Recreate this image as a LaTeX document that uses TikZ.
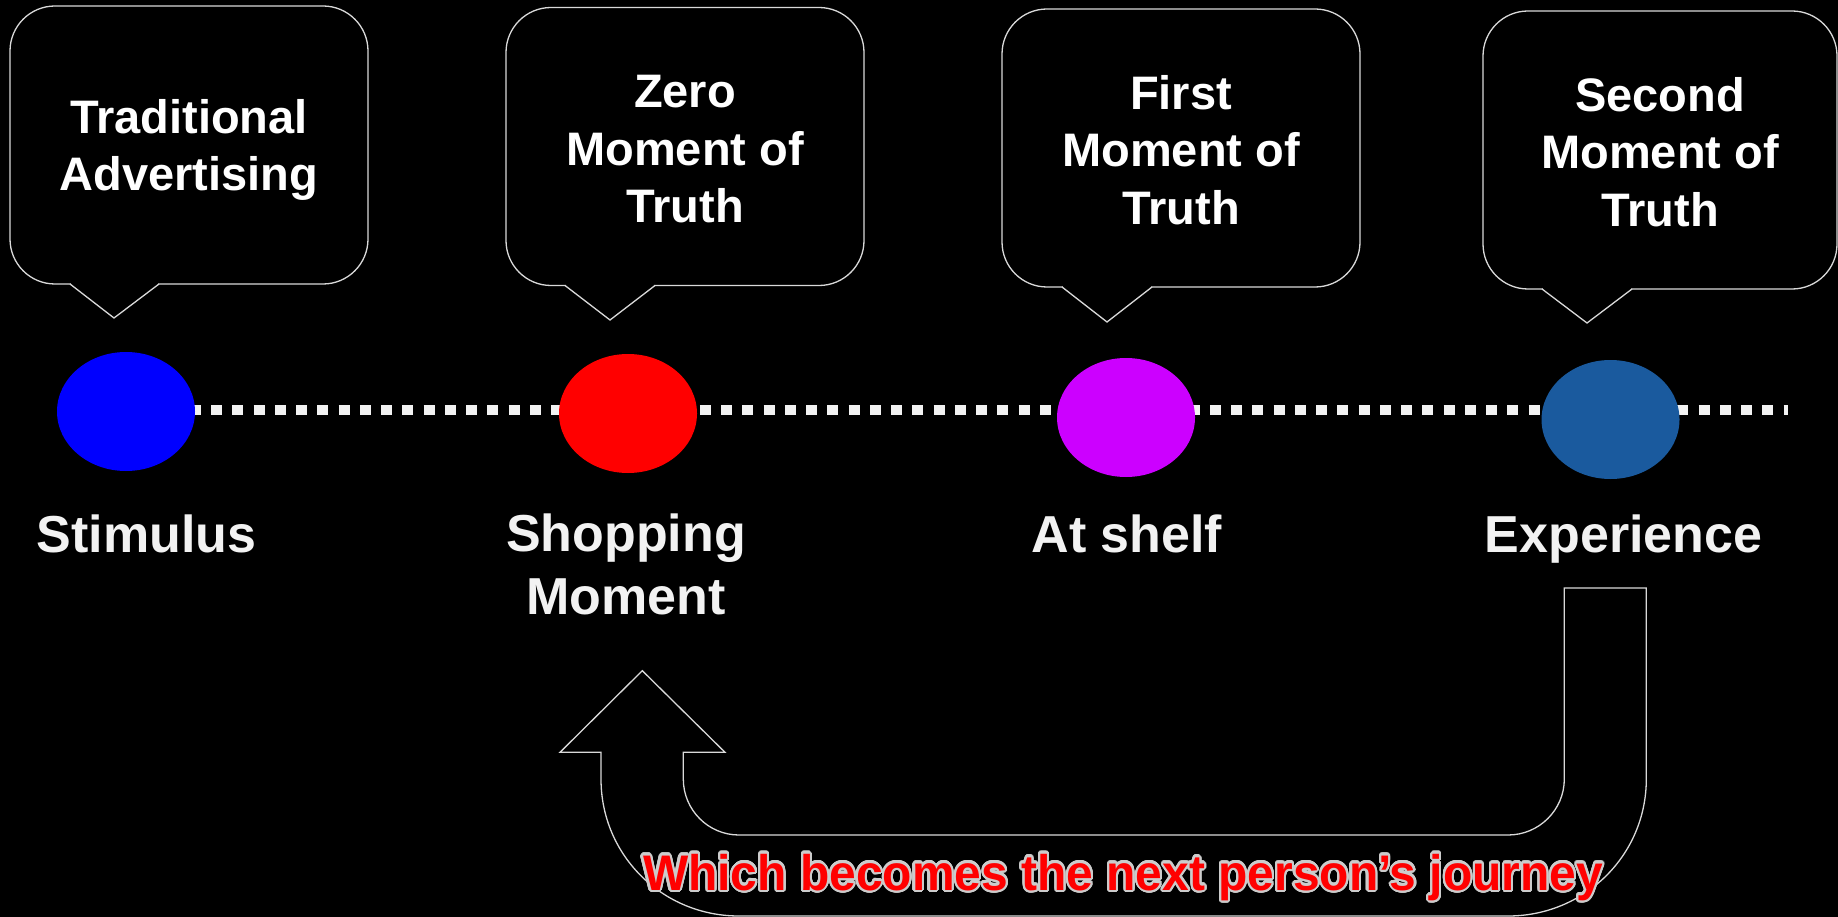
\documentclass[tikz,border=0pt]{standalone}
\usepackage{fontspec}
\setmainfont{Liberation Sans}
\usepackage{contour}
\usetikzlibrary{shapes.geometric}
\definecolor{lineg}{RGB}{217,217,217}
\definecolor{txtw}{RGB}{242,242,242}
\definecolor{magentap}{RGB}{204,0,255}
\definecolor{steelb}{RGB}{26,90,158}
\contourlength{2.2pt}
\contournumber{32}
\newcommand{\calltail}[5]{%
  \fill[black] (#1+1,#5-1.5) -- (#4-1,#5-1.5) -- (#4-1,#5) -- (#2,#3) -- (#1+1,#5) -- cycle;
  \draw[tailedge] (#1,#5) -- (#2,#3) -- (#4,#5);}
\begin{document}
\begin{tikzpicture}[x=1pt,y=-1pt,
  bubble/.style={draw=lineg, line width=1.3pt, fill=black, rounded corners=45pt,
    minimum width=358pt, minimum height=278pt, inner sep=0pt, align=center,
    text=white, text depth=0pt, font=\bfseries\fontsize{47}{57.5}\selectfont},
  three/.style={text height=153pt},
  tailedge/.style={draw=lineg, line width=1.3pt, line join=miter},
  dot/.style={ellipse, minimum width=138pt, minimum height=119pt, inner sep=0pt},
  dotline/.style={draw=txtw, line width=10.5pt, dash pattern=on 11.2pt off 10.05pt},
  stage/.style={text=txtw, font=\bfseries\fontsize{52}{63}\selectfont, align=center, inner sep=0pt},
  uarrow/.style={draw=lineg, line width=1.3pt, line join=miter},
]
\fill[black] (0,0) rectangle (1838,917);
\useasboundingbox (0,0) rectangle (1838,917);

% callouts
\node[bubble] (c1) at (189,145) {Traditional\\Advertising};
\calltail{70}{114}{318}{159}{284}
\node[bubble, three] (c2) at (685,146.5) {Zero\\Moment of\\Truth};
\calltail{565}{610}{320}{655}{285.5}
\node[bubble, three] (c3) at (1181,148) {First\\Moment of\\Truth};
\calltail{1062}{1107}{322}{1152}{287}
\node[bubble, three, minimum width=354pt] (c4) at (1660,150) {Second\\Moment of\\Truth};
\calltail{1542}{1587}{323}{1632}{289}

% timeline
\coordinate (dstart) at (126,410);
\coordinate (dend) at (1788,410);
\draw[dotline] (dstart) -- (dend);

\node[dot, fill=blue] (e1) at (126,411.5) {};
\node[dot, fill=red] (e2) at (628,413.5) {};
\node[dot, fill=magentap] (e3) at (1126,417.5) {};
\node[dot, fill=steelb] (e4) at (1610.5,419.5) {};

% labels
\node[stage, anchor=base] (l1) at (146.5,552) {Stimulus};
\node[stage, anchor=north] (l2) at (626,514) {Shopping\\Moment};
\node[stage, anchor=base] (l3) at (1127,552) {At shelf};
\node[stage, anchor=base] (l4) at (1623.5,552) {Experience};

% U-turn arrow
\draw[uarrow] (1564.3,588) -- (1646.3,588) -- (1646.3,779)
  .. controls (1646.3,855.4) and (1584.4,916) .. (1508,916)
  -- (739,916)
  .. controls (662.6,916) and (601,855.4) .. (601,779)
  -- (601,752.3) -- (560,752.3) -- (642.3,670.7) -- (725,752.3) -- (683.3,752.3) -- (683.3,779)
  .. controls (683.3,809.8) and (708.2,835) .. (739,835)
  -- (1508,835)
  .. controls (1539.1,835) and (1564.3,809.8) .. (1564.3,779)
  -- cycle;

% message
\node[inner sep=0pt, anchor=base] (msg) at (1123,890)
  {\resizebox{960pt}{\height}{\bfseries\fontsize{50}{60}\selectfont\color{red}\contour{white!80!black}{Which becomes the next person’s journey}}};
\end{tikzpicture}
\end{document}
